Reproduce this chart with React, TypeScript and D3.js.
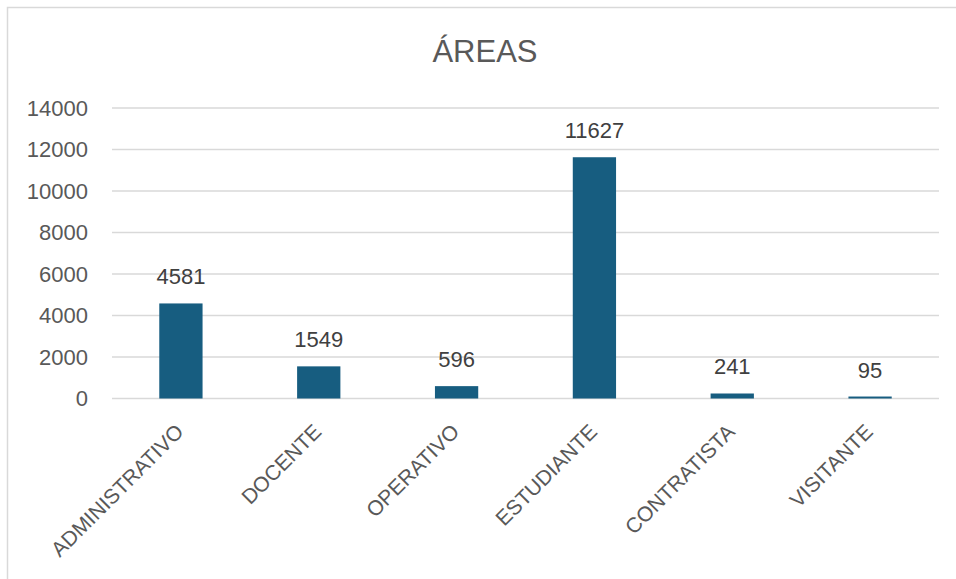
import React, { useEffect, useRef } from 'react';
import * as d3 from 'd3';

const categories = ['ADMINISTRATIVO', 'DOCENTE', 'OPERATIVO', 'ESTUDIANTE', 'CONTRATISTA', 'VISITANTE'];
const values = [4581, 1549, 596, 11627, 241, 95];
const yTicks = [0, 2000, 4000, 6000, 8000, 10000, 12000, 14000];
const title = 'ÁREAS';

const W = 956;
const H = 579;
const margin = { top: 108, right: 17, bottom: 180, left: 112 };

const App: React.FC = () => {
  const svgRef = useRef<SVGSVGElement>(null);

  useEffect(() => {
    const svg = d3.select(svgRef.current);
    svg.selectAll('*').remove();

    const font = '"Liberation Sans", Arial, sans-serif';
    const innerW = W - margin.left - margin.right;

    // frame (only top and left edges are visible in the crop)
    svg.append('rect')
      .attr('x', 7.5)
      .attr('y', 7.5)
      .attr('width', W + 20)
      .attr('height', H + 20)
      .attr('fill', '#fff')
      .attr('stroke', '#d9d9d9')
      .attr('stroke-width', 1.5);

    const x = d3.scaleBand()
      .domain(categories)
      .range([margin.left, margin.left + innerW])
      .paddingInner(0.686)
      .paddingOuter(0.343);

    const y = d3.scaleLinear()
      .domain([0, 14000])
      .range([398.5, 108]);

    svg.append('text')
      .attr('x', 485)
      .attr('y', 62)
      .attr('text-anchor', 'middle')
      .attr('font-family', font)
      .attr('font-size', 31)
      .attr('fill', '#595959')
      .text(title);

    // gridlines
    svg.append('g')
      .selectAll('line')
      .data(yTicks)
      .enter().append('line')
      .attr('x1', margin.left)
      .attr('x2', margin.left + innerW)
      .attr('y1', d => y(d))
      .attr('y2', d => y(d))
      .attr('stroke', '#d9d9d9')
      .attr('stroke-width', 1.5);

    // y tick labels
    svg.append('g')
      .selectAll('text')
      .data(yTicks)
      .enter().append('text')
      .attr('x', 88)
      .attr('y', d => y(d))
      .attr('dy', '0.35em')
      .attr('text-anchor', 'end')
      .attr('font-family', font)
      .attr('font-size', 22)
      .attr('fill', '#595959')
      .text(d => String(d));

    // bars
    svg.append('g')
      .selectAll('rect')
      .data(values)
      .enter().append('rect')
      .attr('x', (d, i) => x(categories[i])!)
      .attr('y', d => y(d))
      .attr('width', x.bandwidth())
      .attr('height', d => y(0) - y(d))
      .attr('fill', '#175d80');

    // data labels
    svg.append('g')
      .selectAll('text')
      .data(values)
      .enter().append('text')
      .attr('x', (d, i) => x(categories[i])! + x.bandwidth() / 2)
      .attr('y', d => y(d) - 19)
      .attr('text-anchor', 'middle')
      .attr('font-family', font)
      .attr('font-size', 22)
      .attr('fill', '#404040')
      .text(d => String(d));

    // category labels, rotated
    svg.append('g')
      .selectAll('text')
      .data(categories)
      .enter().append('text')
      .attr('transform', d => `translate(${x(d)! + x.bandwidth() / 2 + 4},${433}) rotate(-45)`)
      .attr('text-anchor', 'end')
      .attr('font-family', font)
      .attr('font-size', 21)
      .attr('fill', '#595959')
      .text(d => d);
  }, []);

  return (
    <div style={{ position: 'absolute', left: 0, top: 0, width: W, height: H, overflow: 'hidden' }}>
      <svg ref={svgRef} width={W} height={H}></svg>
    </div>
  );
};

export default App;
